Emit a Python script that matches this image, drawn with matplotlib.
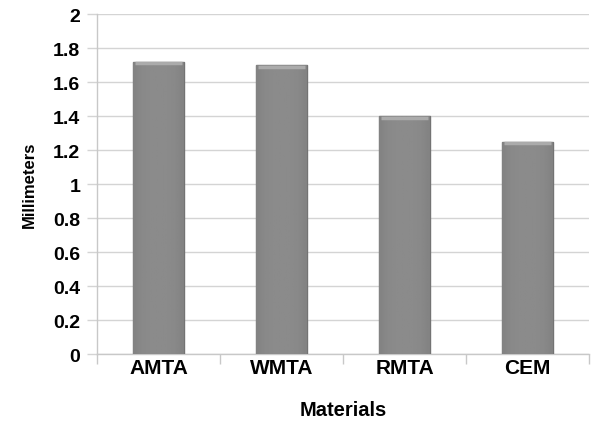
import matplotlib.pyplot as plt
import numpy as np

plt.rcParams['font.family'] = ['Liberation Sans', 'DejaVu Sans']

materiales = ['AMTA', 'WMTA', 'RMTA', 'CEM']
milimetros = [1.72, 1.70, 1.40, 1.25]

fig = plt.figure(figsize=(6, 4.27), dpi=100)
ax = fig.add_axes([0.1617, 0.1686, 0.82, 0.796])

x = np.arange(len(materiales))
ancho = 0.41

# Barras grises con un borde mas oscuro
barras = ax.bar(x, milimetros, width=ancho, color='#878787',
                edgecolor='#737373', linewidth=1.0, zorder=3)

# Degradado suave dentro de cada barra
grad = np.linspace(-1, 1, 64).reshape(1, -1)
grad = 0.545 - 0.035 * np.abs(grad) ** 3
for b in barras:
    x0, w, h = b.get_x(), b.get_width(), b.get_height()
    im = ax.imshow(grad, cmap='gray', vmin=0, vmax=1, aspect='auto',
                   extent=[x0, x0 + w, 0, h], zorder=3.5)
    im.set_clip_path(b)
    # Borde superior mas claro
    ax.plot([x0 + 0.012, x0 + w - 0.012], [h - 0.009, h - 0.009],
            color='#ababab', linewidth=2.5, zorder=4, solid_capstyle='butt')

ax.set_xlim(-0.5, len(materiales) - 0.5)
ax.set_ylim(0, 2)
ax.set_yticks(np.arange(0, 2.01, 0.2))
ax.set_yticklabels(['0', '0.2', '0.4', '0.6', '0.8', '1', '1.2', '1.4', '1.6', '1.8', '2'],
                   fontsize=14, fontweight='bold')
ax.yaxis.grid(True, color='#d4d4d4', linewidth=1.0, zorder=0)
ax.set_axisbelow(True)

# Ticks del eje x en los limites entre categorias
ax.set_xticks(np.arange(-0.5, len(materiales)), minor=False)
ax.set_xticklabels([])
ax.set_xticks(x, minor=True)
ax.set_xticklabels(materiales, minor=True, fontsize=15, fontweight='bold')
ax.tick_params(axis='x', which='major', direction='out', length=7, color='#c8c8c8', width=1)
ax.tick_params(axis='x', which='minor', length=0, pad=3)
ax.tick_params(axis='y', direction='out', length=7, color='#d4d4d4', width=1, pad=5)

for lado in ['top', 'right']:
    ax.spines[lado].set_visible(False)
for lado in ['left', 'bottom']:
    ax.spines[lado].set_color('#c8c8c8')
    ax.spines[lado].set_linewidth(1.0)

ax.set_ylabel('Millimeters', fontsize=12, fontweight='bold')
ax.set_xlabel('Materials', fontsize=14.5, fontweight='bold')
ax.yaxis.set_label_coords(-0.122, 0.5)
ax.xaxis.set_label_coords(0.5, -0.135)

fig.savefig('out.png', dpi=100)
